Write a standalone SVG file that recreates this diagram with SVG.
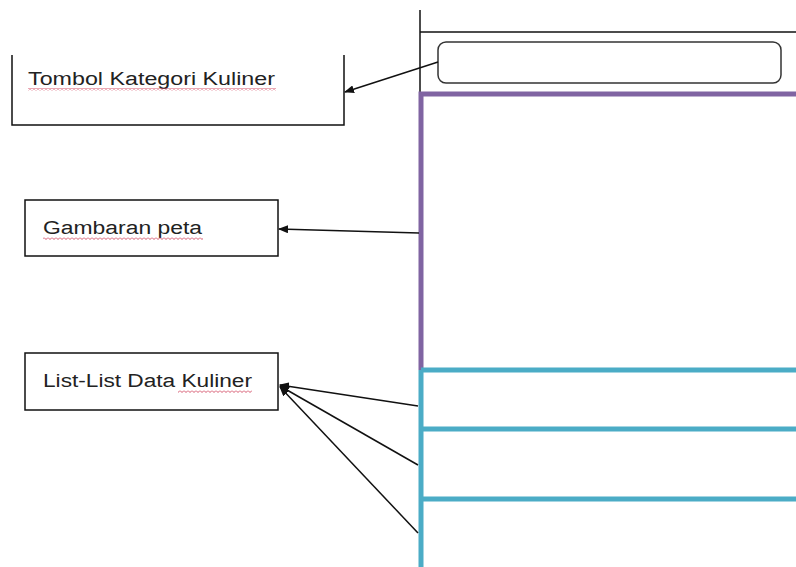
<svg xmlns="http://www.w3.org/2000/svg" width="796" height="567" viewBox="0 0 796 567">
<style>
.lbl{font-family:"Liberation Sans",Arial,sans-serif;font-size:18px;fill:#222;}
.box{fill:none;stroke:#111;stroke-width:1.5;}
.conn{fill:none;stroke:#111;stroke-width:1.5;marker-end:url(#ah);}
.wavy{fill:url(#zig);}
.purple{fill:none;stroke:#8064a2;stroke-width:5;}
.cyan{fill:none;stroke:#4bacc6;stroke-width:5;}
</style>
<defs>
<marker id="ah" markerWidth="10" markerHeight="8" refX="9" refY="4" orient="auto" markerUnits="userSpaceOnUse">
<path d="M0,0 L10,4 L0,8 Z" fill="#111"/>
</marker>
<pattern id="zig" width="4" height="3" patternUnits="userSpaceOnUse">
<path d="M0,0.5 L2,2.5 L4,0.5" fill="none" stroke="#d0405a" stroke-width="0.9"/>
</pattern>
</defs>
<rect width="796" height="567" fill="#fff"/>
<g id="screen">
<line x1="420" y1="10" x2="420" y2="95" stroke="#111" stroke-width="1.5"/>
<line x1="420" y1="32" x2="796" y2="32" stroke="#111" stroke-width="1.5"/>
<rect id="search" x="438" y="42" width="343" height="41" rx="8" fill="#fff" stroke="#333" stroke-width="1.5"/>
<path class="purple" d="M421,370 V94 H796"/>
<path class="cyan" d="M421,370 V567 M421,370 H796 M421,429 H796 M421,499 H796"/>
</g>
<g id="tombol">
<path class="box" d="M12,55 V125 H344 V55"/>
<text class="lbl" x="28" y="85" textLength="247" lengthAdjust="spacingAndGlyphs">Tombol Kategori Kuliner</text>
<rect class="wavy" x="28" y="88" width="248" height="3"/>
</g>
<g id="gambaran">
<rect class="box" x="25" y="200" width="253" height="56"/>
<text class="lbl" x="43" y="234" textLength="159" lengthAdjust="spacingAndGlyphs">Gambaran peta</text>
<rect class="wavy" x="43" y="237" width="160" height="3"/>
</g>
<g id="list">
<rect class="box" x="25" y="353" width="253" height="57"/>
<text class="lbl" x="43" y="387" textLength="209" lengthAdjust="spacingAndGlyphs">List-List Data Kuliner</text>
<rect class="wavy" x="178" y="390" width="74" height="3"/>
</g>
<g id="connectors">
<line class="conn" x1="438" y1="62" x2="345" y2="92"/>
<line class="conn" x1="419" y1="233" x2="279" y2="229"/>
<line class="conn" x1="418" y1="406" x2="280" y2="385"/>
<line class="conn" x1="418" y1="465" x2="280" y2="386"/>
<line class="conn" x1="418" y1="533" x2="280" y2="387"/>
</g>
</svg>
